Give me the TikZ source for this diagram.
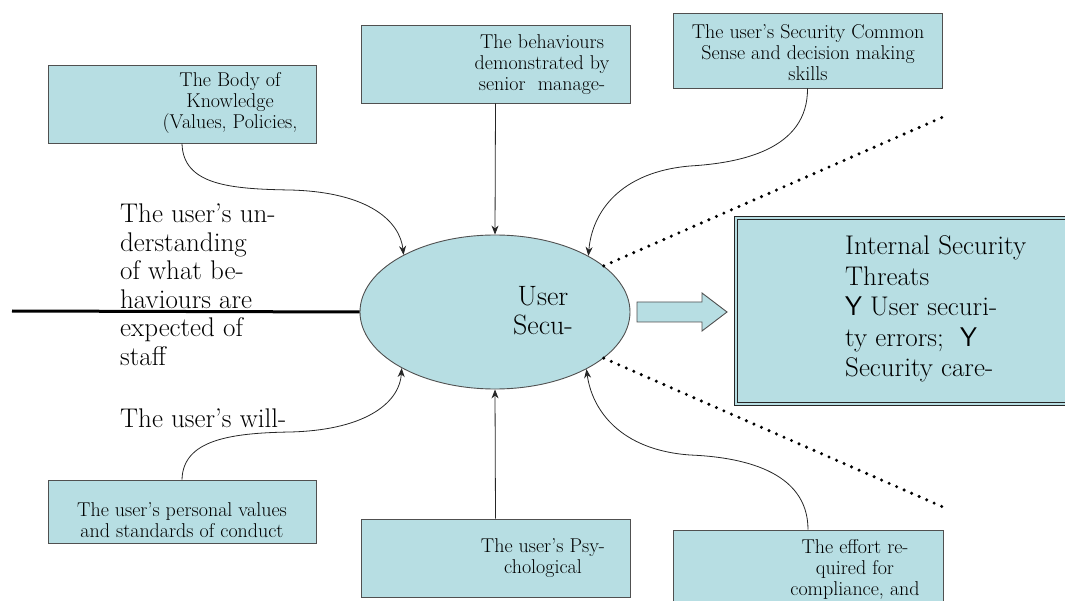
\documentclass[tikz,border=0pt]{standalone}
\usetikzlibrary{arrows.meta,shapes.geometric}
\definecolor{boxblue}{RGB}{183,222,227}
\definecolor{edgegray}{RGB}{80,80,80}
\begin{document}
\begin{tikzpicture}[x=1pt,y=-1pt,
  factbox/.style={draw=edgegray,line width=0.9pt,fill=boxblue,inner sep=0pt,minimum width=#1},
  smalltext/.style={inner sep=0pt,align=center,font=\fontsize{20}{21}\selectfont},
  bigtext/.style={inner sep=0pt,align=left,anchor=west,font=\fontsize{27}{28.5}\selectfont},
  feed/.style={line width=0.8pt,draw=black!85,-{Stealth[length=9pt,width=7pt]}},
  dots/.style={line width=3.4pt,line cap=round,dash pattern=on 0pt off 8.2pt}]
\useasboundingbox (0,0) rectangle (1065,601);
\begin{scope}
\clip (0,0) rectangle (1065,601);
% boxes
\node[factbox=268pt,minimum height=78pt] (bok) at (182,104) {};
\node[factbox=269pt,minimum height=78pt] (sen) at (495.5,64) {};
\node[factbox=269pt,minimum height=75pt] (com) at (807.5,50.5) {};
\node[factbox=268pt,minimum height=63pt] (per) at (182,511.5) {};
\node[factbox=269pt,minimum height=78pt] (psy) at (495.5,558) {};
\node[factbox=270pt,minimum height=80pt] (eff) at (808,570) {};
\node[draw=black!85,line width=1.1pt,double=boxblue,double distance=2.2pt,fill=boxblue,inner sep=0pt,minimum width=334pt,minimum height=186pt] (thr) at (903,311) {};
% texts in boxes
\node[smalltext] (bokt) at (230,103) {The Body of\\Knowledge\\(Values, Policies,};
\node[smalltext] (sent) at (542,65) {The behaviours\\demonstrated by\\senior\ \ manage-};
\node[smalltext] (comt) at (808,53) {The user's Security Common\\Sense and decision making\\skills};
\node[smalltext] (pert) at (182,520) {The user's personal values\\and standards of conduct};
\node[smalltext] (psyt) at (543,558) {The user's Psy-\\chological};
\node[smalltext] (efft) at (855,569) {The effort re-\\quired for\\compliance, and};
% ellipse
\node[ellipse,draw=edgegray,line width=0.9pt,fill=boxblue,minimum width=270pt,minimum height=154pt,inner sep=0pt] (usr) at (495,312) {};
\node[inner sep=0pt,align=center,font=\fontsize{28}{29}\selectfont] (usrt) at (543,311) {User\\Secu-};
% threats text
\node[inner sep=0pt,align=left,anchor=west,font=\fontsize{27}{30.5}\selectfont] (thrt) at (845,309) {Internal Security\\Threats\\{\sffamily Y} User securi-\\ty errors;\ \ {\sffamily Y}\\Security care-};
% left texts
\node[bigtext] (und) at (120,284.5) {The user's un-\\derstanding\\of what be-\\haviours are\\expected of\\staff};
\node[bigtext] (wil) at (120,418) {The user's will-};
% thick line
\coordinate (lineend) at (12,311);
\draw[line width=3pt] (lineend) -- (usr.west);
% block arrow
\draw[draw=edgegray,line width=0.9pt,fill=boxblue] (637,302) -- (702,302) -- (702,293) -- (727,312) -- (702,331) -- (702,322) -- (637,322) -- cycle;
% dotted lines
\coordinate (dtop) at (943,117);
\coordinate (dbot) at (943,507);
\draw[dots] (usr.23) -- (dtop);
\draw[dots] (usr.337) -- (dbot);
% connectors
\draw[feed] (sen.south) -- (usr.north);
\draw[feed] (psy.north) -- (usr.south);
\draw[feed] (bok.south) .. controls (183,185) and (230,189) .. (290,190) .. controls (370,192) and (400,222) .. (usr.148.7);
\draw[feed] (per.north) .. controls (183,440) and (230,433) .. (290,432) .. controls (370,430) and (400,400) .. (usr.211.3);
\draw[feed] (com.south) .. controls (808,150) and (740,163) .. (690,166) .. controls (620,172) and (592,212) .. (usr.31.3);
\draw[feed] (eff.north) .. controls (808,470) and (740,457) .. (690,455) .. controls (620,450) and (592,410) .. (usr.328.7);
\end{scope}
\end{tikzpicture}
\end{document}
